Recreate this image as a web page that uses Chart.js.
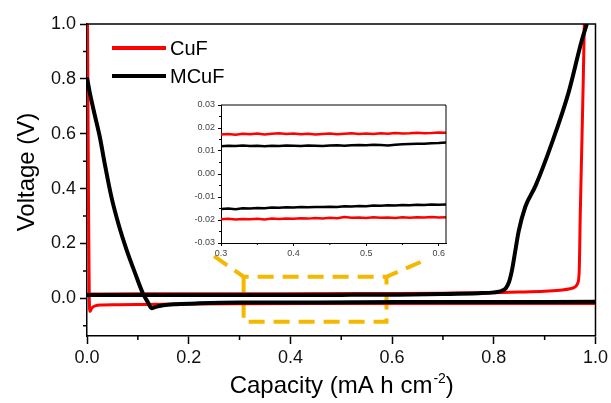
<!DOCTYPE html>
<html><head><meta charset="utf-8">
<script src="https://cdn.jsdelivr.net/npm/chart.js@4.4.0/dist/chart.umd.min.js"></script>
<style>
html,body{margin:0;padding:0;background:#fff;}
#wrap{position:relative;width:611px;height:403px;overflow:hidden;}
#main{position:absolute;left:0;top:0;}
#inset{position:absolute;left:180px;top:95px;}
</style></head><body>
<div id="wrap"><canvas id="main" width="611" height="403"></canvas><canvas id="inset" width="270" height="170"></canvas></div>
<script>
// ---------------- data ----------------
const seriesNames = ['CuF', 'MCuF'];

// CuF: discharge (plating) and charge (stripping)
const cufDisX = [0.001, 0.003, 0.0045, 0.006, 0.009, 0.016, 0.03, 0.06, 0.1, 0.15, 0.2, 0.3, 0.45, 0.6, 0.75, 0.9, 1.0];
const cufDisY = [1.0, 0.35, 0.0, -0.048, -0.036, -0.027, -0.024, -0.023, -0.022, -0.021, -0.0205, -0.0197, -0.019, -0.0188, -0.0187, -0.0185, -0.0185];
const cufChgX = [0.0, 0.1, 0.3, 0.5, 0.61, 0.7, 0.8, 0.85, 0.9, 0.93, 0.95, 0.96, 0.965, 0.968, 0.97, 0.973, 0.976, 0.978];
const cufChgY = [0.016, 0.017, 0.0172, 0.0175, 0.0178, 0.019, 0.021, 0.023, 0.026, 0.03, 0.035, 0.042, 0.055, 0.1, 0.3, 0.55, 0.8, 1.0];

// MCuF: discharge and charge
const mcufDisX = [0.0, 0.006, 0.015, 0.025, 0.036, 0.048, 0.062, 0.078, 0.094, 0.11, 0.12, 0.127, 0.135, 0.15, 0.176, 0.22, 0.3, 0.45, 0.61, 0.8, 1.0];
const mcufDisY = [0.805, 0.745, 0.67, 0.59, 0.48, 0.37, 0.27, 0.176, 0.095, 0.018, -0.015, -0.036, -0.031, -0.025, -0.021, -0.018, -0.0152, -0.0145, -0.0134, -0.013, -0.0125];
const mcufChgX = [0.0, 0.1, 0.3, 0.5, 0.61, 0.7, 0.77, 0.8, 0.815, 0.824, 0.83, 0.836, 0.842, 0.849, 0.862, 0.882, 0.914, 0.947, 0.973, 0.983];
const mcufChgY = [0.012, 0.0122, 0.0123, 0.0128, 0.0137, 0.016, 0.019, 0.022, 0.027, 0.038, 0.06, 0.105, 0.17, 0.245, 0.334, 0.41, 0.565, 0.75, 0.94, 1.0];

// Inset (zoom of 0.3 - 0.61 mA h cm-2)
const insetX = [0.30,0.31,0.32,0.33,0.34,0.35,0.36,0.37,0.38,0.39,0.40,0.41,0.42,0.43,0.44,0.45,0.46,0.47,0.48,0.49,0.50,0.51,0.52,0.53,0.54,0.55,0.56,0.57,0.58,0.59,0.60,0.61];
const insetCufUp = [0.0172,0.0174,0.0171,0.0175,0.0173,0.0176,0.0172,0.0175,0.0177,0.0174,0.0176,0.0173,0.0175,0.0172,0.0174,0.0176,0.0173,0.0175,0.0177,0.0174,0.0176,0.0174,0.0177,0.0175,0.0178,0.0176,0.0177,0.0179,0.0177,0.0178,0.0180,0.0179];
const insetMcufUp = [0.0121,0.0123,0.0122,0.0124,0.0122,0.0123,0.0121,0.0123,0.0122,0.0124,0.0123,0.0122,0.0124,0.0123,0.0122,0.0124,0.0125,0.0123,0.0125,0.0126,0.0125,0.0127,0.0126,0.0124,0.0127,0.0129,0.0130,0.0131,0.0132,0.0134,0.0135,0.0137];
const insetMcufLo = [-0.0152,-0.0150,-0.0153,-0.0149,-0.0150,-0.0148,-0.0149,-0.0146,-0.0147,-0.0145,-0.0146,-0.0144,-0.0145,-0.0143,-0.0144,-0.0142,-0.0143,-0.0140,-0.0141,-0.0139,-0.0140,-0.0137,-0.0138,-0.0136,-0.0137,-0.0135,-0.0136,-0.0134,-0.0135,-0.0133,-0.0134,-0.0133];
const insetCufLo = [-0.0197,-0.0195,-0.0198,-0.0196,-0.0197,-0.0195,-0.0198,-0.0194,-0.0196,-0.0193,-0.0195,-0.0192,-0.0194,-0.0191,-0.0193,-0.0190,-0.0192,-0.0187,-0.0190,-0.0189,-0.0191,-0.0188,-0.0190,-0.0189,-0.0191,-0.0188,-0.0190,-0.0188,-0.0189,-0.0187,-0.0189,-0.0188];

// ticks
const xMajor = [0, 0.2, 0.4, 0.6, 0.8, 1.0];
const xMinor = [0.1, 0.3, 0.5, 0.7, 0.9];
const yMajor = [0, 0.2, 0.4, 0.6, 0.8, 1.0];
const yMinor = [-0.1, 0.1, 0.3, 0.5, 0.7, 0.9];
const insetXMajor = [0.3, 0.4, 0.5, 0.6];
const insetXMinor = [0.35, 0.45, 0.55];
const insetYMajor = [-0.03, -0.02, -0.01, 0, 0.01, 0.02, 0.03];
const insetYMinor = [-0.025, -0.015, -0.005, 0.005, 0.015, 0.025];

// zoom window marked on the main chart (data coordinates)
const zoomBoxX = [0.308, 0.589];
const zoomBoxY = [-0.085, 0.079];
const zoomGuideLeft = [0.25, 0.154];
const zoomGuideRight = [0.669, 0.143];

// ---------------- drawing ----------------
const FONT = "'Liberation Sans', Arial, sans-serif";
const RED = '#FF0000', BLACK = '#000000', YELLOW = '#F5B800';
const pts = (xs, ys) => xs.map((x, i) => ({x: x, y: ys[i]}));

function framePlugin(minX, minY, minLen, lw) {
  return {
    id: 'frame',
    afterDraw(chart) {
      const {ctx, chartArea: a, scales} = chart;
      ctx.save();
      ctx.strokeStyle = '#000';
      ctx.lineWidth = lw;
      ctx.beginPath();
      ctx.moveTo(a.left, a.top); ctx.lineTo(a.right, a.top); ctx.lineTo(a.right, a.bottom);
      ctx.stroke();
      ctx.beginPath();
      minX.forEach(v => { const p = scales.x.getPixelForValue(v); ctx.moveTo(p, a.bottom); ctx.lineTo(p, a.bottom + minLen); });
      minY.forEach(v => { const p = scales.y.getPixelForValue(v); ctx.moveTo(a.left, p); ctx.lineTo(a.left - minLen, p); });
      ctx.stroke();
      ctx.restore();
    }
  };
}

const zoomMarkPlugin = {
  id: 'zoomMark',
  beforeDatasetsDraw(chart) {
    const {ctx, scales: {x, y}} = chart;
    const X = v => x.getPixelForValue(v), Y = v => y.getPixelForValue(v);
    ctx.save();
    ctx.strokeStyle = YELLOW;
    ctx.lineWidth = 4;
    ctx.setLineDash([16, 9]);
    ctx.beginPath();
    ctx.moveTo(X(zoomGuideLeft[0]), Y(zoomGuideLeft[1]));
    ctx.lineTo(X(zoomBoxX[0]), Y(zoomBoxY[1]));
    ctx.lineTo(X(zoomBoxX[1]), Y(zoomBoxY[1]));
    ctx.lineTo(X(zoomGuideRight[0]), Y(zoomGuideRight[1]));
    ctx.stroke();
    ctx.beginPath();
    ctx.moveTo(X(zoomBoxX[0]), Y(zoomBoxY[1]));
    ctx.lineTo(X(zoomBoxX[0]), Y(zoomBoxY[0]));
    ctx.lineTo(X(zoomBoxX[1]), Y(zoomBoxY[0]));
    ctx.lineTo(X(zoomBoxX[1]), Y(zoomBoxY[1]));
    ctx.stroke();
    ctx.restore();
  }
};

const titlesPlugin = {
  id: 'titles',
  afterDraw(chart) {
    const {ctx, chartArea: a} = chart;
    ctx.save();
    ctx.fillStyle = '#000';
    // x title with superscript
    const big = '24px ' + FONT, small = '14px ' + FONT;
    const p1 = 'Capacity (mA h cm', p2 = '-2', p3 = ')';
    ctx.font = big; const w1 = ctx.measureText(p1).width, w3 = ctx.measureText(p3).width;
    ctx.font = small; const w2 = ctx.measureText(p2).width;
    let sx = (a.left + a.right) / 2 - (w1 + w2 + w3) / 2;
    const by = a.bottom + 57;
    ctx.textBaseline = 'alphabetic'; ctx.textAlign = 'left';
    ctx.font = big; ctx.fillText(p1, sx, by);
    ctx.font = small; ctx.fillText(p2, sx + w1 + 1, by - 10);
    ctx.font = big; ctx.fillText(p3, sx + w1 + w2 + 1, by);
    // y title
    ctx.translate(27, (a.top + a.bottom) / 2 - 8);
    ctx.rotate(-Math.PI / 2);
    ctx.textAlign = 'center'; ctx.textBaseline = 'middle';
    ctx.font = big;
    ctx.fillText('Voltage (V)', 0, 0);
    ctx.restore();
  }
};

const legendPlugin = {
  id: 'customLegend',
  afterDraw(chart) {
    const {ctx, chartArea: a} = chart;
    const colors = [RED, BLACK];
    ctx.save();
    ctx.font = '20px ' + FONT;
    ctx.textBaseline = 'middle';
    seriesNames.forEach((name, i) => {
      const y = a.top + 24 + i * 28;
      ctx.strokeStyle = colors[i];
      ctx.lineWidth = 4;
      ctx.beginPath(); ctx.moveTo(a.left + 25, y); ctx.lineTo(a.left + 79, y); ctx.stroke();
      ctx.fillStyle = '#000';
      ctx.fillText(name, a.left + 83, y + 1);
    });
    ctx.restore();
  }
};

const lineDs = (label, data, color, width, order) => ({
  label, data, borderColor: color, backgroundColor: color, borderWidth: width, order,
  pointRadius: 0, fill: false
});

new Chart(document.getElementById('main'), {
  type: 'line',
  data: { datasets: [
    lineDs(seriesNames[0], pts(cufDisX, cufDisY), RED, 3, 2),
    lineDs(seriesNames[0], pts(cufChgX, cufChgY), RED, 3, 2),
    lineDs(seriesNames[1], pts(mcufDisX, mcufDisY), BLACK, 4, 1),
    lineDs(seriesNames[1], pts(mcufChgX, mcufChgY), BLACK, 4, 1)
  ]},
  options: {
    responsive: false, animation: false, devicePixelRatio: 1,
    layout: {padding: {left: 0, right: 14, top: 24, bottom: 0}},
    elements: {line: {cubicInterpolationMode: 'monotone', borderJoinStyle: 'round', borderCapStyle: 'butt'}},
    plugins: {legend: {display: false}, tooltip: {enabled: false}},
    scales: {
      x: {
        type: 'linear', min: 0, max: 1,
        afterFit(s) { s.height = 67; },
        afterBuildTicks(s) { s.ticks = xMajor.map(v => ({value: v})); },
        grid: {drawOnChartArea: false, tickLength: 8, color: '#000', tickWidth: 1.5},
        border: {color: '#000', width: 1.5},
        ticks: {font: {family: FONT, size: 18}, color: '#111', padding: 3, maxRotation: 0, callback: v => v.toFixed(1)}
      },
      y: {
        type: 'linear', min: -0.137, max: 1.0,
        afterFit(s) { s.width = 87; },
        afterBuildTicks(s) { s.ticks = yMajor.map(v => ({value: v})); },
        grid: {drawOnChartArea: false, tickLength: 7, color: '#000', tickWidth: 1.5},
        border: {color: '#000', width: 1.5},
        ticks: {font: {family: FONT, size: 18}, color: '#111', padding: 4, callback: v => v.toFixed(1)}
      }
    }
  },
  plugins: [zoomMarkPlugin, framePlugin(xMinor, yMinor, 4, 1.5), titlesPlugin, legendPlugin]
});

new Chart(document.getElementById('inset'), {
  type: 'line',
  data: { datasets: [
    lineDs(seriesNames[0], pts(insetX, insetCufUp), RED, 2.5, 1),
    lineDs(seriesNames[1], pts(insetX, insetMcufUp), BLACK, 2.5, 1),
    lineDs(seriesNames[1], pts(insetX, insetMcufLo), BLACK, 2.5, 1),
    lineDs(seriesNames[0], pts(insetX, insetCufLo), RED, 2.5, 1)
  ]},
  options: {
    responsive: false, animation: false, devicePixelRatio: 1,
    layout: {padding: {left: 0, right: 4, top: 10, bottom: 0}},
    elements: {line: {tension: 0}},
    plugins: {legend: {display: false}, tooltip: {enabled: false}},
    scales: {
      x: {
        type: 'linear', min: 0.3, max: 0.61,
        afterFit(s) { s.height = 22; },
        afterBuildTicks(s) { s.ticks = insetXMajor.map(v => ({value: v})); },
        grid: {drawOnChartArea: false, tickLength: 3, color: '#000', tickWidth: 1},
        border: {color: '#000', width: 1},
        ticks: {font: {family: FONT, size: 9}, color: '#444', padding: 2, maxRotation: 0, callback: v => v.toFixed(1)}
      },
      y: {
        type: 'linear', min: -0.03, max: 0.03,
        afterFit(s) { s.width = 41; },
        afterBuildTicks(s) { s.ticks = insetYMajor.map(v => ({value: v})); },
        grid: {drawOnChartArea: false, tickLength: 3, color: '#000', tickWidth: 1},
        border: {color: '#000', width: 1},
        ticks: {font: {family: FONT, size: 9}, color: '#444', padding: 3, callback: v => v.toFixed(2)}
      }
    }
  },
  plugins: [framePlugin(insetXMinor, insetYMinor, 2, 1)]
});
</script></body></html>
